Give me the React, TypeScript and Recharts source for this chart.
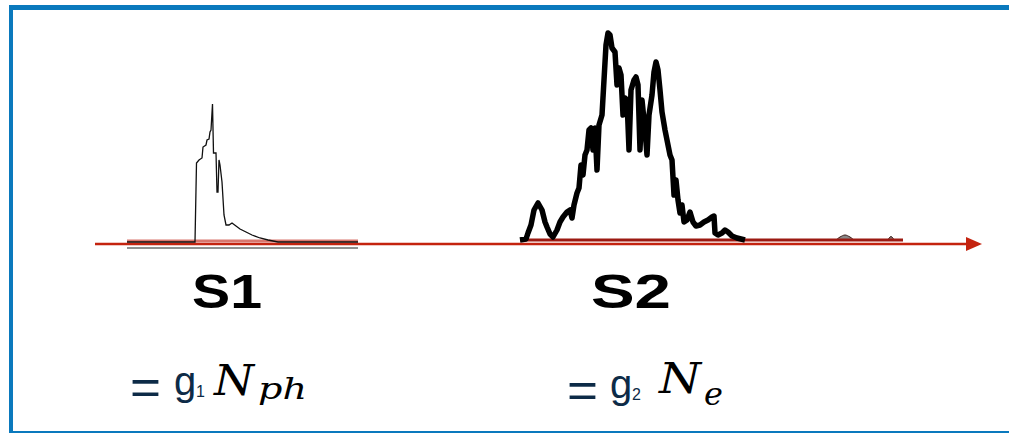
import { ComposedChart, Line, Area, XAxis, YAxis, ReferenceLine } from "recharts";

// time in ns from the start of the trace, amplitude in phd (arbitrary)
const s1Time = [32, 55, 85, 100, 101.5, 104, 107, 108, 111, 112, 114, 115, 116, 117.5, 118.5, 121, 122, 123, 124, 125, 127, 129, 131, 134, 137, 141, 145, 151, 157, 165, 173, 183, 205, 235, 263];
const s1Amp = [2, 2, 2, 2, 81, 84, 86, 97, 99, 104, 105, 112, 114, 140, 91, 91, 52, 52, 84, 79, 62, 29, 19, 19, 21, 18, 15, 12, 9, 6, 4, 2, 2, 2, 2];

const s2Time = [425, 431, 433, 436, 439, 443, 447, 450, 452, 455, 458, 462, 465, 468, 472, 475, 477, 479, 482, 484, 486, 488, 490, 492, 494, 496, 498, 500, 502, 504, 507, 509, 511, 513, 515, 517, 520, 522, 524, 526, 528, 530, 532, 534, 536, 539, 541, 543, 545, 547, 550, 552, 554, 557, 559, 561, 563, 565, 567, 570, 572, 575, 577, 579, 581, 583, 585, 587, 589, 592, 595, 598, 601, 605, 609, 613, 617, 619, 620, 623, 627, 630, 633, 637, 642, 650];
const s2Amp = [4, 5, 11, 19, 34, 41, 34, 22, 17, 10, 7, 14, 22, 27, 32, 34, 26, 39, 51, 56, 79, 69, 89, 94, 114, 116, 94, 116, 74, 119, 129, 164, 199, 211, 209, 196, 192, 159, 176, 169, 129, 146, 144, 94, 154, 164, 167, 159, 94, 144, 114, 89, 129, 149, 172, 182, 174, 154, 132, 114, 104, 89, 84, 49, 64, 44, 31, 39, 22, 24, 32, 22, 18, 19, 22, 24, 27, 28, 11, 9, 11, 14, 12, 8, 6, 4];

const tailTime = [650, 705, 740, 745, 750, 755, 760, 792, 796, 800, 808];
const tailAmp = [4, 4, 4, 7, 9, 7, 4, 4, 7.5, 4, 4];

const s1BaseTime = [32, 263];
const s1BandAmp = [3, 3];
const s1FrameAmp = [-4, -4];
const s2BaseTime = [425, 808];
const s2BaseAmp = [4, 4];

const zip = (ts: number[], as: number[]) => ts.map((t, i) => ({ t, amp: as[i] }));

const s1Data = zip(s1Time, s1Amp);
const s2Data = zip(s2Time, s2Amp);
const tailData = zip(tailTime, tailAmp);
const s1Band = zip(s1BaseTime, s1BandAmp);
const s1Frame = zip(s1BaseTime, s1FrameAmp);
const s2Base = zip(s2BaseTime, s2BaseAmp);

const RED = "#c4230f";
const NAVY = "#0d2b47";

const Arrow = (p: any) => {
  const { x1, y1, x2 } = p;
  const head = 16;
  return (
    <g>
      <line x1={x1} y1={y1} x2={x2 - head + 2} y2={y1} stroke={RED} strokeWidth={2.5} />
      <polygon points={`${x2 - head},${y1 - 7} ${x2},${y1} ${x2 - head},${y1 + 7}`} fill={RED} />
    </g>
  );
};

export default function App() {
  return (
    <div style={{ position: "absolute", left: 0, top: 0, width: 1009, height: 433, background: "#fff", overflow: "hidden" }}>
      <div
        style={{
          position: "absolute",
          left: 9,
          top: 5,
          width: 1010,
          height: 428,
          boxSizing: "border-box",
          borderTop: "5px solid #0a79bd",
          borderLeft: "4px solid #0a79bd",
          borderBottom: "2px solid #0a79bd",
        }}
      />
      <div style={{ position: "absolute", left: 0, top: 0 }}>
        <ComposedChart width={1009} height={433} margin={{ top: 30, right: 27, bottom: 183, left: 95 }}>
          <XAxis type="number" dataKey="t" domain={[0, 887]} hide allowDataOverflow />
          <YAxis type="number" domain={[-6, 214]} hide allowDataOverflow />
          <ReferenceLine y={0} shape={Arrow} />
          <Line data={s1Band} dataKey="amp" stroke="#d9776e" strokeWidth={3} dot={false} isAnimationActive={false} />
          <Line data={s1Frame} dataKey="amp" stroke="#222" strokeWidth={1} dot={false} isAnimationActive={false} />
          <Line data={s2Base} dataKey="amp" stroke="#9c1a12" strokeWidth={3} dot={false} isAnimationActive={false} />
          <Line data={s1Data} dataKey="amp" stroke="#111" strokeWidth={1.3} dot={false} isAnimationActive={false} />
          <Line data={s2Data} dataKey="amp" stroke="#000" strokeWidth={5.5} strokeLinejoin="round" dot={false} isAnimationActive={false} />
          <Area data={tailData} dataKey="amp" type="monotone" baseValue={4} stroke="#3a1a16" strokeWidth={1} fill="#888" fillOpacity={1} dot={false} isAnimationActive={false} />
        </ComposedChart>
      </div>
      <svg width={1009} height={433} style={{ position: "absolute", left: 0, top: 0, pointerEvents: "none" }}>
        <g fontFamily="'Liberation Sans', Arial, sans-serif" fontWeight="bold" fill="#000" fontSize={49}>
          <text x={192} y={308} textLength={70} lengthAdjust="spacingAndGlyphs">S1</text>
          <text x={591} y={308} textLength={80} lengthAdjust="spacingAndGlyphs">S2</text>
        </g>
        <g fontFamily="'Liberation Sans', Arial, sans-serif" fill={NAVY}>
          <text x={130} y={404} fontSize={50} textLength={31} lengthAdjust="spacingAndGlyphs">=</text>
          <text x={174} y={395} fontSize={40}>g</text>
          <text x={196} y={397} fontSize={16}>1</text>
          <text x={567} y={407} fontSize={50} textLength={31} lengthAdjust="spacingAndGlyphs">=</text>
          <text x={610} y={398} fontSize={40}>g</text>
          <text x={632} y={400} fontSize={16}>2</text>
        </g>
        <g fontFamily="'DejaVu Serif', 'Liberation Serif', serif" fontStyle="italic" fill="#000">
          <text x={214} y={395} fontSize={43} textLength={40} lengthAdjust="spacingAndGlyphs">N</text>
          <text x={258} y={399} fontSize={30} textLength={49} lengthAdjust="spacingAndGlyphs">ph</text>
          <text x={659} y={393} fontSize={43} textLength={42} lengthAdjust="spacingAndGlyphs">N</text>
          <text x={704} y={405} fontSize={32}>e</text>
        </g>
      </svg>
    </div>
  );
}
